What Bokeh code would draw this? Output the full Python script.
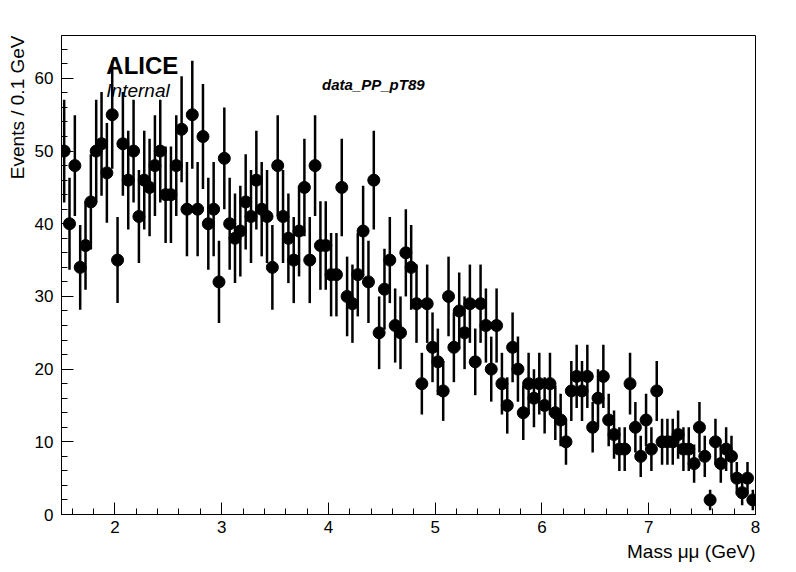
import numpy as np
from bokeh.plotting import figure
from bokeh.models import Label, FixedTicker, Title
from bokeh.embed import file_html
from bokeh.resources import INLINE

# Histogram: 130 bins of 0.05 GeV between 1.5 and 8 GeV
x_lo, x_hi, n_bins = 1.5, 8.0, 130
counts = [50, 40, 48, 34, 37, 43, 50, 51, 47, 55,
          35, 51, 46, 50, 41, 46, 45, 48, 50, 44,
          44, 48, 53, 42, 55, 42, 52, 40, 42, 32,
          49, 40, 38, 39, 43, 41, 46, 42, 41, 34,
          48, 41, 38, 35, 39, 45, 35, 48, 37, 37,
          33, 33, 45, 30, 29, 33, 39, 32, 46, 25,
          31, 35, 26, 25, 36, 34, 29, 18, 29, 23,
          21, 17, 30, 23, 28, 25, 29, 21, 29, 26,
          20, 26, 18, 15, 23, 20, 14, 18, 16, 18,
          15, 18, 14, 13, 10, 17, 19, 17, 19, 12,
          16, 19, 13, 11, 9, 9, 18, 12, 8, 13,
          9, 17, 10, 10, 10, 11, 9, 9, 7, 12,
          8, 2, 10, 7, 9, 8, 5, 3, 5, 2]
y_ticks = [0, 10, 20, 30, 40, 50, 60]
x_ticks = [2, 3, 4, 5, 6, 7, 8]

edges = np.linspace(x_lo, x_hi, n_bins + 1)
centers = 0.5 * (edges[:-1] + edges[1:])
y = np.array(counts, dtype=float)
err = np.sqrt(y)

FONT = "Liberation Sans"

p = figure(width=788, height=564, x_range=(x_lo, x_hi), y_range=(0, 65.9),
           output_backend="svg", toolbar_location=None,
           min_border_left=10, min_border_right=33, min_border_top=35, min_border_bottom=10)
p.grid.visible = False
p.outline_line_color = "black"
p.outline_line_width = 1

for ax in (p.xaxis, p.yaxis):
    ax.major_tick_in = 12
    ax.major_tick_out = 0
    ax.minor_tick_in = 6
    ax.minor_tick_out = 0
    ax.axis_line_color = "black"
    ax.major_label_text_font = FONT
    ax.major_label_text_font_size = "17px"
    ax.major_label_text_color = "black"
p.xaxis.ticker = FixedTicker(ticks=x_ticks, minor_ticks=list(np.arange(1.6, 8.01, 0.2)))
p.yaxis.ticker = FixedTicker(ticks=y_ticks, minor_ticks=list(range(0, 66, 2)))
p.xaxis.major_label_standoff = 6
p.yaxis.major_label_standoff = 8

p.add_layout(Title(text="Mass \u03bc\u03bc (GeV)", align="right", text_font=FONT,
                   text_font_size="19px", text_font_style="normal", text_color="black",
                   standoff=6), "below")
p.add_layout(Title(text="Events / 0.1 GeV", align="right", text_font=FONT,
                   text_font_size="19px", text_font_style="normal", text_color="black",
                   standoff=8), "left")

p.segment(x0=centers, y0=y - err, x1=centers, y1=y + err, line_color="black", line_width=2.5)
p.scatter(centers, y, size=12, marker="circle", fill_color="black", line_color="black")

p.add_layout(Label(x=1.92, y=61.8, text="ALICE", text_baseline="middle",
                   text_font=FONT, text_font_size="24px", text_font_style="bold", text_color="black"))
p.add_layout(Label(x=1.92, y=58.4, text="Internal", text_baseline="middle",
                   text_font=FONT, text_font_size="19px", text_font_style="italic", text_color="black"))
p.add_layout(Label(x=3.94, y=59.1, text="data_PP_pT89", text_baseline="middle",
                   text_font=FONT, text_font_size="15px", text_font_style="bold italic", text_color="black"))

open("out.html", "w").write(file_html(p, INLINE))
